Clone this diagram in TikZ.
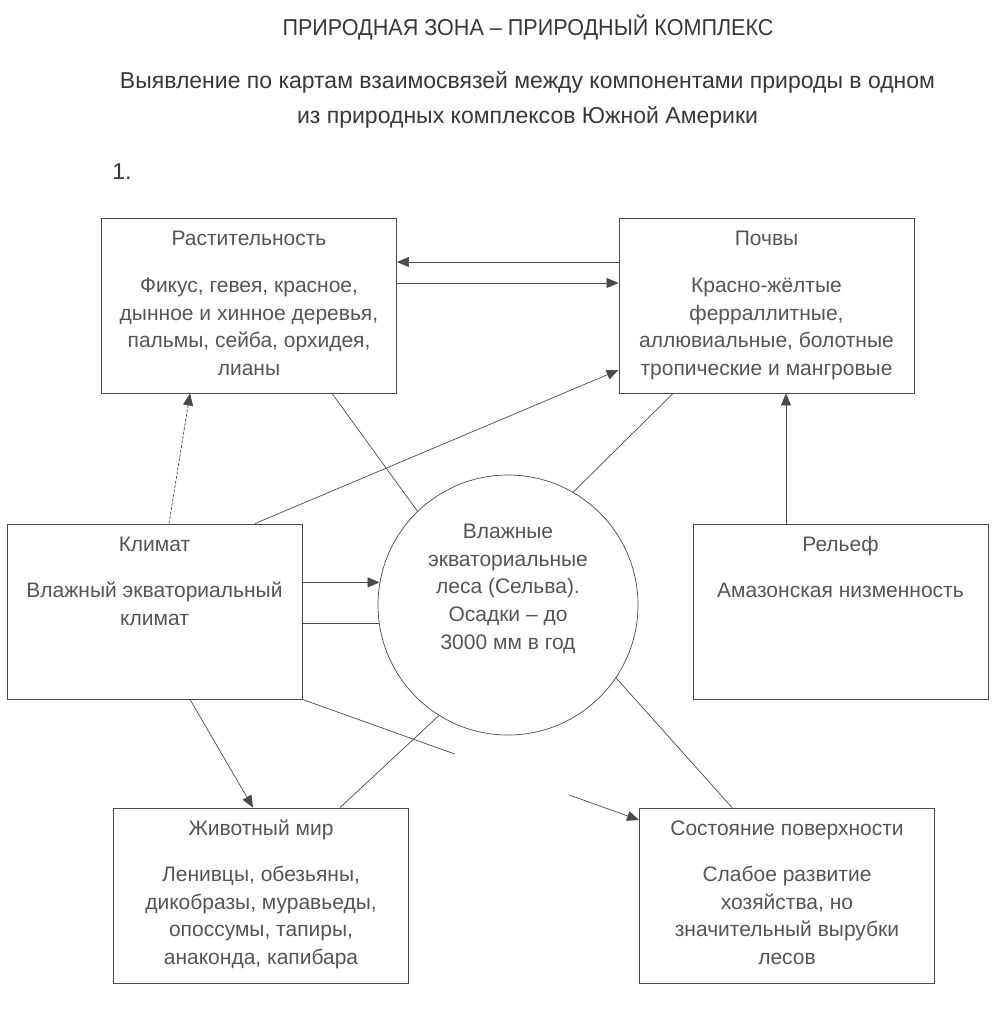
\documentclass[tikz,border=0pt]{standalone}
\usepackage{fontspec}
\setmainfont{Liberation Sans}
\usetikzlibrary{arrows.meta,calc}
\definecolor{txt}{HTML}{555555}
\definecolor{ttl}{HTML}{383838}
\definecolor{ln}{HTML}{4a4a4a}
\newcommand\fitw[2]{\resizebox{#1}{\height}{#2}}
\begin{document}
\begin{tikzpicture}[x=1pt,y=-1pt,
 box/.style={draw=ln, line width=0.9pt, minimum width=295pt, minimum height=175pt, inner sep=0pt},
 hd/.style={text=txt, font=\fontsize{21}{27.7}\selectfont, anchor=base, inner sep=0pt},
 bd/.style={text=txt, font=\fontsize{21}{27.7}\selectfont, align=center, anchor=base, inner sep=0pt},
 con/.style={draw=ln, line width=0.7pt},
 arr/.style={con, -{Triangle[length=12pt,width=10pt]}},
 head/.style={text=ttl, font=\fontsize{23}{28}\selectfont, inner sep=0pt},
]
\useasboundingbox (0,0) rectangle (1000,1030);
\fill[white] (0,0) rectangle (1000,1030);

% headings
\node[head] (title) at (528,27) {\fitw{491pt}{ПРИРОДНАЯ ЗОНА – ПРИРОДНЫЙ КОМПЛЕКС}};
\node[head] (sub1) at (527.5,82) {\fitw{815pt}{Выявление по картам взаимосвязей между компонентами природы в одном}};
\node[head] (sub2) at (527.5,117) {\fitw{461pt}{из природных комплексов Южной Америки}};
\node[head] (num) at (122,172) {1.};

% boxes
\node[box] (rast) at (249,305.5) {};
\node[box] (poch) at (766.5,305.5) {};
\node[box] (klim) at (154.5,611.5) {};
\node[box] (relief) at (840.5,611.5) {};
\node[box] (zhiv) at (261,895.5) {};
\node[box] (sost) at (787,895.5) {};
\node[draw=ln, line width=0.7pt, circle, minimum size=260pt, inner sep=0pt] (circ) at (508,605) {};

% texts (multi-line nodes: base = baseline of the last line)
\node[hd] (rastH) at ([yshift=-27.5pt]rast.north) {Растительность};
\node[bd] (rastB) at ([yshift=-158pt]rast.north) {Фикус, гевея, красное,\\дынное и хинное деревья,\\пальмы, сейба, орхидея,\\лианы};
\node[hd] (pochH) at ([yshift=-27.5pt]poch.north) {Почвы};
\node[bd] (pochB) at ([yshift=-158pt]poch.north) {Красно-жёлтые\\ферраллитные,\\аллювиальные, болотные\\тропические и мангровые};
\node[hd] (klimH) at ([yshift=-27.5pt]klim.north) {Климат};
\node[bd] (klimB) at ([yshift=-101.7pt]klim.north) {Влажный экваториальный\\климат};
\node[hd] (reliefH) at ([yshift=-27.5pt]relief.north) {Рельеф};
\node[bd] (reliefB) at ([yshift=-74pt]relief.north) {Амазонская низменность};
\node[hd] (zhivH) at ([yshift=-27.5pt]zhiv.north) {Животный мир};
\node[bd] (zhivB) at ([yshift=-157pt]zhiv.north) {Ленивцы, обезьяны,\\дикобразы, муравьеды,\\опоссумы, тапиры,\\анаконда, капибара};
\node[hd] (sostH) at ([yshift=-27.5pt]sost.north) {Состояние поверхности};
\node[bd] (sostB) at ([yshift=-157pt]sost.north) {Слабое развитие\\хозяйства, но\\значительный вырубки\\лесов};
\node[bd] (circT) at (508,649.3) {Влажные\\экваториальные\\леса (Сельва).\\Осадки – до\\3000 мм в год};

% connectors
\draw[arr] ([yshift=43.5pt]poch.west) -- ([yshift=43.5pt]rast.east);
\draw[arr] ([yshift=22.5pt]rast.east) -- ([yshift=22.5pt]poch.west);
\draw[arr, dash pattern=on 3pt off 1.5pt] ([xshift=14.5pt]klim.north) -- ([xshift=-59pt]rast.south);
\draw[arr] ([xshift=100.5pt]klim.north) -- ([yshift=-64.5pt]poch.west);
\draw[con] ([xshift=83pt]rast.south) -- (circ.134);
\draw[con] (circ.60) -- ([xshift=-93.5pt]poch.south);
\coordinate (rv) at ([xshift=-54.5pt]relief.north);
\draw[arr] (rv) -- (rv |- poch.south);
\draw[arr] (klim.east |- circ.170) -- (circ.170);
\draw[con] (klim.east |- circ.188) -- (circ.188);
\draw[arr] ([xshift=35.5pt]klim.south) -- ([xshift=-8pt]zhiv.north);
\draw[con] ([xshift=79pt]zhiv.north) -- (circ.238);
\coordinate (kt) at ([yshift=75.5pt]sost.west);
\coordinate (g1) at ($(klim.south east)!0.453!(kt)$);
\coordinate (g2) at ($(klim.south east)!0.793!(kt)$);
\draw[con] (klim.south east) -- (g1);
\draw[arr] (g2) -- (kt);
\draw[con] (circ.-34) -- ([xshift=-55pt]sost.north);
\end{tikzpicture}
\end{document}
